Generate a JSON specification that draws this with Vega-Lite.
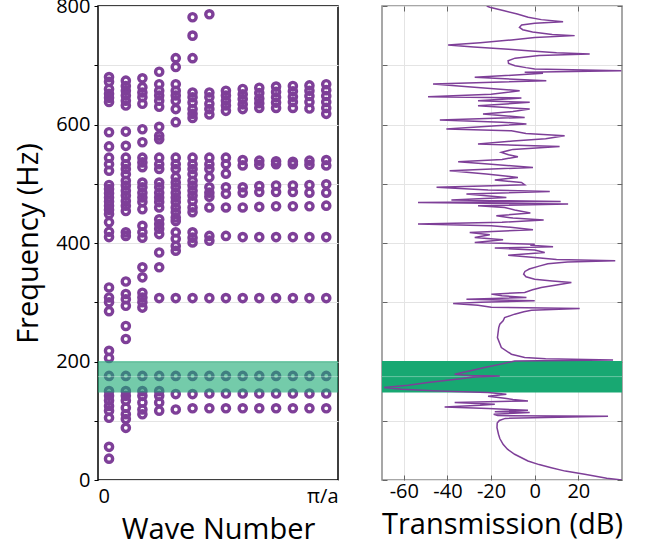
{
  "$schema": "https://vega.github.io/schema/vega-lite/v6.json",
  "padding": {"left": 13, "top": -5, "right": 5, "bottom": 5},
  "background": "white",
  "config": {
    "font": "Open Sans",
    "view": {"stroke": null},
    "axis": {"labelFontSize": 20, "titleFontSize": 29, "titleFontWeight": "normal", "labelColor": "#000", "titleColor": "#000", "tickColor": "#000", "gridColor": "#e4e4e4", "domain": false}
  },
  "datasets": {
    "band": [{"lo": 147.5, "hi": 201, "mid": 174.5}],
    "pts": [
      {"q":0.046,"f":680},{"q":0.046,"f":672},{"q":0.046,"f":660},{"q":0.046,"f":652},{"q":0.046,"f":645},{"q":0.046,"f":638},{"q":0.046,"f":587},{"q":0.046,"f":563},{"q":0.046,"f":544},{"q":0.046,"f":533},{"q":0.046,"f":522},{"q":0.046,"f":498},{"q":0.046,"f":491},{"q":0.046,"f":484},{"q":0.046,"f":477},{"q":0.046,"f":470},{"q":0.046,"f":463},{"q":0.046,"f":456},{"q":0.046,"f":449},{"q":0.046,"f":435},{"q":0.046,"f":419},{"q":0.046,"f":410},{"q":0.046,"f":325},{"q":0.046,"f":308},{"q":0.046,"f":300},{"q":0.046,"f":285},{"q":0.046,"f":218},{"q":0.046,"f":206},{"q":0.046,"f":175.7},{"q":0.046,"f":150},{"q":0.046,"f":142},{"q":0.046,"f":134},{"q":0.046,"f":125},{"q":0.046,"f":117},{"q":0.046,"f":105},{"q":0.046,"f":56},{"q":0.046,"f":36},
      {"q":0.116,"f":674},{"q":0.116,"f":665},{"q":0.116,"f":657},{"q":0.116,"f":649},{"q":0.116,"f":640},{"q":0.116,"f":632},{"q":0.116,"f":588},{"q":0.116,"f":564},{"q":0.116,"f":544},{"q":0.116,"f":533},{"q":0.116,"f":525},{"q":0.116,"f":516},{"q":0.116,"f":505},{"q":0.116,"f":497},{"q":0.116,"f":488},{"q":0.116,"f":480},{"q":0.116,"f":471},{"q":0.116,"f":463},{"q":0.116,"f":454},{"q":0.116,"f":418},{"q":0.116,"f":412},{"q":0.116,"f":335},{"q":0.116,"f":314},{"q":0.116,"f":305},{"q":0.116,"f":294},{"q":0.116,"f":260},{"q":0.116,"f":238},{"q":0.116,"f":175.7},{"q":0.116,"f":150},{"q":0.116,"f":142},{"q":0.116,"f":134},{"q":0.116,"f":122},{"q":0.116,"f":111},{"q":0.116,"f":103},{"q":0.116,"f":88},
      {"q":0.185,"f":678},{"q":0.185,"f":663},{"q":0.185,"f":654},{"q":0.185,"f":646},{"q":0.185,"f":635},{"q":0.185,"f":592},{"q":0.185,"f":570},{"q":0.185,"f":544},{"q":0.185,"f":536},{"q":0.185,"f":528},{"q":0.185,"f":502},{"q":0.185,"f":494},{"q":0.185,"f":485},{"q":0.185,"f":477},{"q":0.185,"f":469},{"q":0.185,"f":457},{"q":0.185,"f":429},{"q":0.185,"f":418},{"q":0.185,"f":409},{"q":0.185,"f":359},{"q":0.185,"f":342},{"q":0.185,"f":316},{"q":0.185,"f":308},{"q":0.185,"f":300},{"q":0.185,"f":291},{"q":0.185,"f":175.7},{"q":0.185,"f":150},{"q":0.185,"f":142},{"q":0.185,"f":131},{"q":0.185,"f":119},{"q":0.185,"f":111},
      {"q":0.255,"f":689},{"q":0.255,"f":668},{"q":0.255,"f":657},{"q":0.255,"f":649},{"q":0.255,"f":640},{"q":0.255,"f":630},{"q":0.255,"f":596},{"q":0.255,"f":581},{"q":0.255,"f":575},{"q":0.255,"f":544},{"q":0.255,"f":533},{"q":0.255,"f":525},{"q":0.255,"f":502},{"q":0.255,"f":494},{"q":0.255,"f":485},{"q":0.255,"f":477},{"q":0.255,"f":469},{"q":0.255,"f":460},{"q":0.255,"f":440},{"q":0.255,"f":432},{"q":0.255,"f":424},{"q":0.255,"f":415},{"q":0.255,"f":384},{"q":0.255,"f":359},{"q":0.255,"f":307},{"q":0.255,"f":175.7},{"q":0.255,"f":150},{"q":0.255,"f":142},{"q":0.255,"f":131},{"q":0.255,"f":117},
      {"q":0.324,"f":712},{"q":0.324,"f":697},{"q":0.324,"f":668},{"q":0.324,"f":657},{"q":0.324,"f":649},{"q":0.324,"f":640},{"q":0.324,"f":626},{"q":0.324,"f":604},{"q":0.324,"f":544},{"q":0.324,"f":533},{"q":0.324,"f":525},{"q":0.324,"f":511},{"q":0.324,"f":502},{"q":0.324,"f":494},{"q":0.324,"f":485},{"q":0.324,"f":477},{"q":0.324,"f":469},{"q":0.324,"f":460},{"q":0.324,"f":452},{"q":0.324,"f":443},{"q":0.324,"f":437},{"q":0.324,"f":418},{"q":0.324,"f":407},{"q":0.324,"f":395},{"q":0.324,"f":387},{"q":0.324,"f":307},{"q":0.324,"f":175.7},{"q":0.324,"f":145},{"q":0.324,"f":119},
      {"q":0.394,"f":781},{"q":0.394,"f":750},{"q":0.394,"f":712},{"q":0.394,"f":654},{"q":0.394,"f":646},{"q":0.394,"f":637},{"q":0.394,"f":626},{"q":0.394,"f":618},{"q":0.394,"f":611},{"q":0.394,"f":544},{"q":0.394,"f":533},{"q":0.394,"f":525},{"q":0.394,"f":516},{"q":0.394,"f":505},{"q":0.394,"f":497},{"q":0.394,"f":488},{"q":0.394,"f":480},{"q":0.394,"f":471},{"q":0.394,"f":460},{"q":0.394,"f":452},{"q":0.394,"f":418},{"q":0.394,"f":409},{"q":0.394,"f":401},{"q":0.394,"f":307},{"q":0.394,"f":175.7},{"q":0.394,"f":145},{"q":0.394,"f":121},
      {"q":0.464,"f":786},{"q":0.464,"f":654},{"q":0.464,"f":646},{"q":0.464,"f":635},{"q":0.464,"f":626},{"q":0.464,"f":617},{"q":0.464,"f":544},{"q":0.464,"f":533},{"q":0.464,"f":525},{"q":0.464,"f":511},{"q":0.464,"f":494},{"q":0.464,"f":485},{"q":0.464,"f":478},{"q":0.464,"f":460},{"q":0.464,"f":412},{"q":0.464,"f":404},{"q":0.464,"f":307},{"q":0.464,"f":175.7},{"q":0.464,"f":146},{"q":0.464,"f":121},
      {"q":0.533,"f":657},{"q":0.533,"f":649},{"q":0.533,"f":640},{"q":0.533,"f":632},{"q":0.533,"f":623},{"q":0.533,"f":544},{"q":0.533,"f":533},{"q":0.533,"f":517},{"q":0.533,"f":494},{"q":0.533,"f":483},{"q":0.533,"f":460},{"q":0.533,"f":412},{"q":0.533,"f":307},{"q":0.533,"f":175.7},{"q":0.533,"f":146},{"q":0.533,"f":121},
      {"q":0.603,"f":660},{"q":0.603,"f":651},{"q":0.603,"f":643},{"q":0.603,"f":634},{"q":0.603,"f":626},{"q":0.603,"f":540},{"q":0.603,"f":531},{"q":0.603,"f":494},{"q":0.603,"f":485},{"q":0.603,"f":460},{"q":0.603,"f":410},{"q":0.603,"f":307},{"q":0.603,"f":175.7},{"q":0.603,"f":146},{"q":0.603,"f":121},
      {"q":0.672,"f":662},{"q":0.672,"f":653},{"q":0.672,"f":644},{"q":0.672,"f":636},{"q":0.672,"f":628},{"q":0.672,"f":539},{"q":0.672,"f":532},{"q":0.672,"f":496},{"q":0.672,"f":486},{"q":0.672,"f":461},{"q":0.672,"f":410},{"q":0.672,"f":307},{"q":0.672,"f":175.7},{"q":0.672,"f":146},{"q":0.672,"f":121},
      {"q":0.742,"f":664},{"q":0.742,"f":655},{"q":0.742,"f":646},{"q":0.742,"f":637},{"q":0.742,"f":628},{"q":0.742,"f":538},{"q":0.742,"f":533},{"q":0.742,"f":497},{"q":0.742,"f":486},{"q":0.742,"f":462},{"q":0.742,"f":410},{"q":0.742,"f":307},{"q":0.742,"f":175.7},{"q":0.742,"f":146},{"q":0.742,"f":121},
      {"q":0.812,"f":665},{"q":0.812,"f":656},{"q":0.812,"f":647},{"q":0.812,"f":638},{"q":0.812,"f":628},{"q":0.812,"f":537},{"q":0.812,"f":533},{"q":0.812,"f":497},{"q":0.812,"f":486},{"q":0.812,"f":462},{"q":0.812,"f":410},{"q":0.812,"f":307},{"q":0.812,"f":175.7},{"q":0.812,"f":146},{"q":0.812,"f":121},
      {"q":0.881,"f":666},{"q":0.881,"f":657},{"q":0.881,"f":648},{"q":0.881,"f":638},{"q":0.881,"f":627},{"q":0.881,"f":539},{"q":0.881,"f":532},{"q":0.881,"f":498},{"q":0.881,"f":485},{"q":0.881,"f":462},{"q":0.881,"f":410},{"q":0.881,"f":307},{"q":0.881,"f":175.7},{"q":0.881,"f":146},{"q":0.881,"f":121},
      {"q":0.951,"f":668},{"q":0.951,"f":658},{"q":0.951,"f":648},{"q":0.951,"f":638},{"q":0.951,"f":628},{"q":0.951,"f":618},{"q":0.951,"f":540},{"q":0.951,"f":531},{"q":0.951,"f":499},{"q":0.951,"f":485},{"q":0.951,"f":463},{"q":0.951,"f":410},{"q":0.951,"f":307},{"q":0.951,"f":175.7},{"q":0.951,"f":146},{"q":0.951,"f":121}
    ],
    "tx": [
      {"f":0,"t":40},{"f":3,"t":33},{"f":9.6,"t":22.9},{"f":15,"t":14},{"f":20.8,"t":7.6},{"f":26,"t":2},{"f":32.1,"t":-3.1},{"f":43.4,"t":-9.2},{"f":52,"t":-12.5},{"f":60.3,"t":-14.5},{"f":70,"t":-16},{"f":77.2,"t":-16.6},{"f":88.4,"t":-17.3},{"f":96,"t":-17.2},{"f":100.5,"t":-16.2},{"f":104,"t":-13.5},{"f":107.5,"t":33.6},{"f":108.7,"t":-17},{"f":111,"t":-18.8},{"f":113.8,"t":-2.3},{"f":115.4,"t":-18.3},{"f":117.7,"t":-3.1},{"f":120.5,"t":-21.4},{"f":123.3,"t":-41.3},{"f":126,"t":-25},{"f":127.8,"t":-18.3},{"f":130.7,"t":-36.7},{"f":133.5,"t":-3.1},{"f":136,"t":-10},{"f":138,"t":-13.8},{"f":141.3,"t":-21.4},{"f":144.7,"t":-13},{"f":147.5,"t":-21.4},{"f":150.4,"t":-44.3},{"f":153.2,"t":-61.1},{"f":156,"t":-69},{"f":160,"t":-58},{"f":164.4,"t":-48.9},{"f":170,"t":-36},{"f":174,"t":-27.5},{"f":175.5,"t":-16},{"f":176.5,"t":-30},{"f":178.5,"t":-36.7},{"f":184,"t":-30},{"f":189.8,"t":-23},{"f":196,"t":-15},{"f":201,"t":-9.2},{"f":202.7,"t":35.9},{"f":204.5,"t":5},{"f":206.7,"t":-4.6},{"f":212.3,"t":-10.7},{"f":223.6,"t":-15.3},{"f":240.4,"t":-17.1},{"f":257.3,"t":-16.5},{"f":263,"t":-16},{"f":268.6,"t":-14.5},{"f":274,"t":-13.8},{"f":279.9,"t":-9.2},{"f":284,"t":-5},{"f":286.6,"t":-1.5},{"f":289.5,"t":20.6},{"f":291.5,"t":-19.9},{"f":295.1,"t":-26},{"f":297.9,"t":-37.4},{"f":300,"t":-25},{"f":302.4,"t":0},{"f":305.2,"t":-31.3},{"f":308,"t":-3.8},{"f":311,"t":-15},{"f":313.7,"t":-19.9},{"f":316.5,"t":-4.6},{"f":321,"t":-1},{"f":325,"t":3},{"f":329,"t":10},{"f":333.4,"t":16.8},{"f":336,"t":8},{"f":339,"t":0},{"f":343,"t":-4},{"f":347.5,"t":-5.1},{"f":352,"t":-4.5},{"f":356,"t":-2.5},{"f":361,"t":2},{"f":365,"t":6},{"f":368,"t":15},{"f":370,"t":36.9},{"f":372,"t":10},{"f":375.6,"t":0},{"f":379.5,"t":-12.2},{"f":384,"t":4.6},{"f":388,"t":0},{"f":391.4,"t":-18.3},{"f":393.6,"t":8.4},{"f":396,"t":-2},{"f":398,"t":0},{"f":400.9,"t":-27.5},{"f":405.4,"t":-14.5},{"f":409.4,"t":-27.5},{"f":413.9,"t":-20.6},{"f":417.8,"t":-29.8},{"f":422.3,"t":-0.8},{"f":426.3,"t":-10},{"f":429,"t":-20},{"f":431.9,"t":-53.5},{"f":435,"t":-15},{"f":438.7,"t":4.1},{"f":442,"t":-10},{"f":446,"t":-17.6},{"f":450.5,"t":-2},{"f":455.6,"t":-9.2},{"f":460,"t":-13.8},{"f":462.9,"t":-26},{"f":465.7,"t":15.3},{"f":468.5,"t":-53.5},{"f":470.2,"t":11.9},{"f":472.5,"t":-38.2},{"f":477,"t":-13},{"f":482.6,"t":-31.3},{"f":487.1,"t":6.9},{"f":489.3,"t":-21.4},{"f":493.9,"t":-45},{"f":498.4,"t":-4.6},{"f":502.3,"t":-6.1},{"f":506.2,"t":-18.3},{"f":510.7,"t":-7.7},{"f":516.4,"t":-22.2},{"f":522,"t":-39},{"f":527.6,"t":-0.8},{"f":533.2,"t":-21.4},{"f":537.1,"t":-35.1},{"f":541,"t":-15},{"f":545.6,"t":-7.7},{"f":549,"t":-12},{"f":553,"t":-15.3},{"f":558,"t":-10},{"f":563,"t":11.4},{"f":567,"t":-26},{"f":572,"t":-10},{"f":576,"t":5},{"f":581,"t":13.7},{"f":585,"t":-4},{"f":589.5,"t":-10.7},{"f":592.3,"t":-40.5},{"f":598,"t":-17.6},{"f":600.8,"t":-3.8},{"f":604,"t":-15},{"f":607.5,"t":-43.5},{"f":612,"t":-4.6},{"f":617.7,"t":-23.7},{"f":622,"t":-10},{"f":626,"t":-2.3},{"f":631.7,"t":-26},{"f":637.4,"t":-2.3},{"f":640,"t":-26},{"f":644.7,"t":-6.1},{"f":647,"t":-48.9},{"f":651,"t":-20},{"f":657,"t":-6.9},{"f":663.8,"t":-30.6},{"f":668.3,"t":-46.6},{"f":674,"t":5.3},{"f":679.6,"t":-27.5},{"f":686.3,"t":3.8},{"f":688,"t":-4.6},{"f":690.9,"t":39.7},{"f":693.7,"t":0},{"f":696,"t":-4},{"f":699.3,"t":-9},{"f":703,"t":-12},{"f":707.7,"t":-12.2},{"f":712,"t":-9},{"f":716.5,"t":2},{"f":719,"t":25.2},{"f":721,"t":10},{"f":724.6,"t":-3.1},{"f":727,"t":-12},{"f":731,"t":-28},{"f":734.2,"t":-39.7},{"f":738,"t":-25},{"f":742.7,"t":-10.7},{"f":747,"t":0},{"f":750,"t":18.3},{"f":752,"t":8},{"f":756,"t":-1},{"f":760,"t":-5.5},{"f":764,"t":-7},{"f":768,"t":-6},{"f":771,"t":0},{"f":773.6,"t":13},{"f":777,"t":3},{"f":781,"t":-3},{"f":786.6,"t":-8},{"f":792,"t":-14},{"f":797.8,"t":-20.6},{"f":800,"t":-22}
    ]
  },
  "hconcat": [
    {
      "width": 240,
      "height": 474,
      "view": {"stroke": "#000", "strokeWidth": 1.5},
      "layer": [
        {
          "data": {"name": "pts"},
          "mark": {"type": "point", "shape": "circle", "filled": false, "size": 52, "strokeWidth": 3.4, "color": "#7e3f98", "opacity": 1},
          "encoding": {
            "x": {"field": "q", "type": "quantitative", "scale": {"domain": [0, 1], "nice": false, "zero": false},
                  "axis": {"values": [0, 1], "labelExpr": "datum.value == 0 ? '0' : 'π/a'", "ticks": false, "grid": false, "title": "Wave Number", "labelPadding": 6, "titlePadding": 9}},
            "y": {"field": "f", "type": "quantitative", "scale": {"domain": [0, 800], "nice": false},
                  "axis": {"values": [0,100,200,300,400,500,600,700,800], "labelExpr": "datum.value % 200 == 0 ? datum.label : ''", "grid": true, "tickSize": 4, "labelPadding": 4, "title": "Frequency (Hz)", "titlePadding": 12}}
          }
        },
        {
          "data": {"name": "band"},
          "mark": {"type": "rect", "color": "#18a872", "opacity": 0.6},
          "encoding": {"y": {"field": "lo", "type": "quantitative", "title": "Frequency (Hz)"}, "y2": {"field": "hi"}}
        },
        {
          "data": {"name": "band"},
          "mark": {"type": "rule", "color": "#ffffff", "opacity": 0.35, "strokeWidth": 1},
          "encoding": {"y": {"field": "mid", "type": "quantitative", "title": "Frequency (Hz)"}}
        }
      ]
    },
    {
      "width": 240,
      "height": 474,
      "view": {"stroke": "#8a8a8a", "strokeWidth": 1.5},
      "resolve": {"axis": {"x": "independent", "y": "independent"}},
      "layer": [
        {
          "data": {"name": "band"},
          "mark": {"type": "rect", "color": "#18a872"},
          "encoding": {"y": {"field": "lo", "type": "quantitative", "scale": {"domain": [0, 800], "nice": false},
                             "axis": {"values": [0,100,200,300,400,500,600,700,800], "labels": false, "grid": true, "tickSize": -5, "tickColor": "#666", "title": null}},
                       "y2": {"field": "hi"}}
        },
        {
          "data": {"name": "band"},
          "mark": {"type": "rule", "color": "#ffffff", "opacity": 0.35, "strokeWidth": 1},
          "encoding": {"y": {"field": "mid", "type": "quantitative", "axis": null}}
        },
        {
          "data": {"name": "tx"},
          "mark": {"type": "line", "color": "#7e3f98", "strokeWidth": 1.5, "clip": true},
          "encoding": {
            "x": {"field": "t", "type": "quantitative", "scale": {"domain": [-70, 40], "nice": false, "zero": false},
                  "axis": {"values": [-60, -40, -20, 0, 20], "labelExpr": "datum.value < 0 ? '-' + abs(datum.value) : datum.label", "grid": true, "tickSize": -5, "tickColor": "#666", "labelPadding": 6, "title": "Transmission (dB)", "titlePadding": 9}},
            "y": {"field": "f", "type": "quantitative", "axis": null},
            "order": {"field": "f", "type": "quantitative"}
          }
        },
        {
          "data": {"name": "tx"},
          "mark": {"type": "point", "opacity": 0},
          "encoding": {
            "x": {"field": "t", "type": "quantitative", "axis": {"orient": "top", "values": [-60, -40, -20, 0, 20], "labels": false, "grid": false, "tickSize": -5, "tickColor": "#666", "title": null}},
            "y": {"field": "f", "type": "quantitative", "axis": {"orient": "right", "values": [0,100,200,300,400,500,600,700,800], "labels": false, "grid": false, "tickSize": -5, "tickColor": "#666", "title": null}}
          }
        }
      ]
    }
  ],
  "spacing": 44,
  "bounds": "flush"
}
